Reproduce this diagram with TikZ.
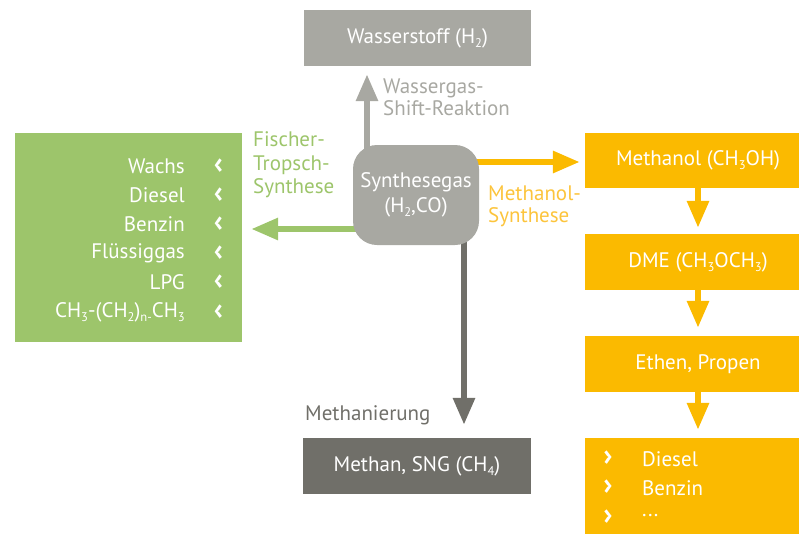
\documentclass[tikz,border=0pt]{standalone}
\usepackage{fontspec}
\setmainfont{PT Sans}
\usetikzlibrary{arrows.meta,backgrounds}
\definecolor{cgreen}{HTML}{9DC56B}
\definecolor{corange}{HTML}{FBBA00}
\definecolor{clorange}{HTML}{FCC43C}
\definecolor{clgray}{HTML}{A8A8A2}
\definecolor{cdgray}{HTML}{706F69}
\newcommand{\subs}[1]{\raisebox{-0.4ex}{\scalebox{0.6}{#1}}}
\begin{document}
\begin{tikzpicture}[x=1pt,y=-1pt,
  box/.style={inner sep=0pt, text=white, font=\fontsize{21}{25}\selectfont},
  lbl/.style={inner sep=0pt, font=\fontsize{21}{22}\selectfont, align=left, anchor=west},
  item/.style={inner sep=0pt, text=white, font=\fontsize{21}{25}\selectfont},
  chev/.style={inner sep=0pt, text=white, font=\fontsize{30}{30}\selectfont\bfseries},
  arr/.style={line width=6pt, -{Triangle[width=21pt,length=27pt]}}]
\clip (0,0) rectangle (799,533);
% boxes
\node[box, fill=clgray, minimum width=227pt, minimum height=56pt] (h2) at (417.5,38) {Wasserstoff (H\subs{2})};
\node[box, fill=clgray, rounded corners=24pt, minimum width=126pt, minimum height=100pt, align=center] (syn) at (416,195) {Synthesegas\\(H\subs{2},CO)};
\node[box, fill=cgreen, minimum width=227pt, minimum height=209pt] (fuel) at (128.5,237.5) {};
\node[box, fill=cdgray, minimum width=228pt, minimum height=56pt] (sng) at (417,466) {Methan, SNG (CH\subs{4})};
\node[box, fill=corange, minimum width=226pt, minimum height=55pt] (meth) at (698,160.5) {Methanol (CH\subs{3}OH)};
\node[box, fill=corange, minimum width=226pt, minimum height=56pt] (dme) at (698,262) {DME (CH\subs{3}OCH\subs{3})};
\node[box, fill=corange, minimum width=226pt, minimum height=56pt] (eth) at (698,364) {Ethen, Propen};
\node[box, fill=corange, minimum width=226pt, minimum height=100pt] (prod) at (698,488) {};
% green list
\node[item, anchor=east] (w1) at (185,166) {Wachs};
\node[item, anchor=east] (w2) at (185,195) {Diesel};
\node[item, anchor=east] (w3) at (185,224) {Benzin};
\node[item, anchor=east] (w4) at (185,253) {Flüssiggas};
\node[item, anchor=east] (w5) at (185,282) {LPG};
\node[item, anchor=east] (w6) at (185,312) {CH\subs{3}-(CH\subs{2})\subs{n-}CH\subs{3}};
\foreach \y/\n in {166/1,195/2,224/3,253/4,282/5,312/6}
  \node[chev] (c\n) at (218.5,\y) {‹};
% orange list
\node[chev] (p1) at (608,458) {›};
\node[chev] (p2) at (608,487) {›};
\node[chev] (p3) at (608,517) {›};
\node[item, anchor=west] (q1) at (642,459) {Diesel};
\node[item, anchor=west] (q2) at (642,488) {Benzin};
\node[item, anchor=west] (q3) at (642,516) {...};
% labels
\node[lbl, text=clgray] (lws) at (383,97.5) {Wassergas-\\Shift-Reaktion};
\node[lbl, text=cgreen, font=\fontsize{21}{23.5}\selectfont] (lft) at (253,165) {Fischer-\\Tropsch-\\Synthese};
\node[lbl, text=clorange] (lms) at (488,206) {Methanol-\\Synthese};
\node[lbl, text=cdgray] (lme) at (305,415) {Methanierung};
% arrows
\begin{scope}[on background layer]
\coordinate (gu) at ([xshift=-49pt,yshift=-10pt]syn.north);
\draw[arr, clgray] (gu) -- ([yshift=-8pt]h2.south -| gu);
\coordinate (gd) at ([xshift=48pt,yshift=10pt]syn.south);
\draw[arr, cdgray] (gd) -- ([yshift=13pt]sng.north -| gd);
\coordinate (gl) at ([xshift=10pt,yshift=-34pt]syn.west);
\draw[arr, cgreen] (gl) -- ([xshift=9pt]fuel.east |- gl);
\coordinate (gr) at ([xshift=-10pt,yshift=33pt]syn.east);
\draw[arr, corange] (gr) -- ([xshift=-5pt]meth.west |- gr);
\end{scope}
\draw[arr, corange] (meth.south) -- ([yshift=6pt]dme.north);
\draw[arr, corange] (dme.south) -- ([yshift=8pt]eth.north);
\draw[arr, corange] (eth.south) -- ([yshift=8pt]prod.north);
\end{tikzpicture}
\end{document}
